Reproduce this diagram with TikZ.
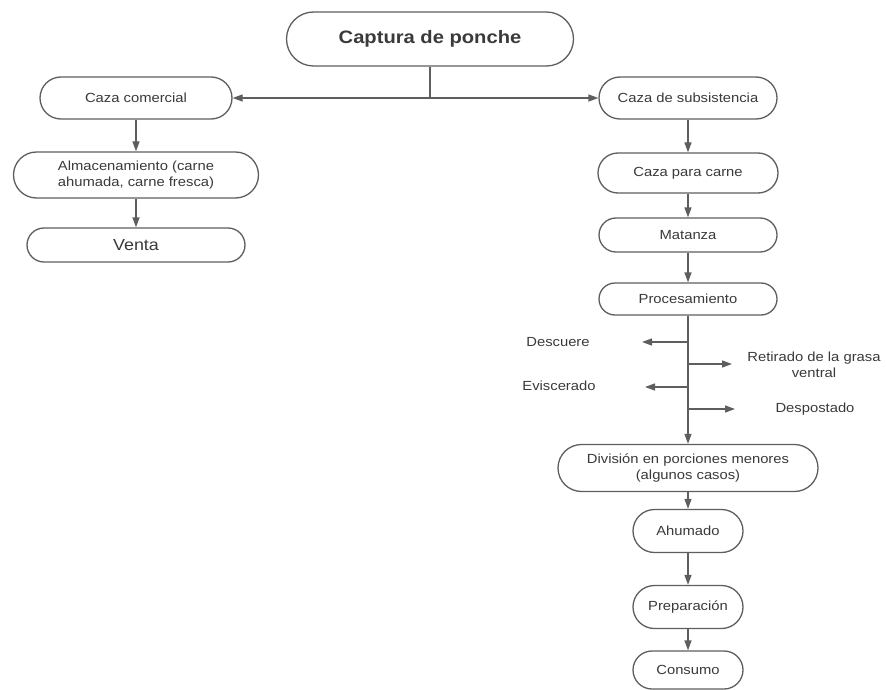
\documentclass[tikz,border=0pt]{standalone}
\usepackage{fontspec}
\setmainfont{Liberation Sans}[FakeStretch=1.12]
\usetikzlibrary{arrows.meta}
\definecolor{linec}{HTML}{5E5E5E}
\definecolor{txtc}{HTML}{3A3A3A}
\begin{document}
\begin{tikzpicture}[x=1pt,y=-1pt,
 pill/.style={draw=linec,line width=1.3pt,fill=white,text=txtc,inner sep=0pt,align=center,font=\fontsize{13.2}{16}\selectfont},
 conn/.style={draw=linec,line width=1.3pt},
 arr/.style={conn,-{Triangle[length=10pt,width=7pt]}},
 lbl/.style={text=txtc,align=center,font=\fontsize{13.2}{16}\selectfont}]
\useasboundingbox (0,0) rectangle (886,690);
% nodes
\node[pill,minimum width=287pt,minimum height=54pt,rounded corners=27pt,font=\bfseries\fontsize{18}{21}\selectfont] (cap) at (430,39) {Captura de ponche};
\node[pill,minimum width=192pt,minimum height=42pt,rounded corners=21pt] (cc) at (136,98) {Caza comercial};
\node[pill,minimum width=245pt,minimum height=46pt,rounded corners=23pt] (alm) at (136,175) {Almacenamiento (carne\\ahumada, carne fresca)};
\node[pill,minimum width=218pt,minimum height=34pt,rounded corners=17pt,font=\fontsize{16}{19}\selectfont] (ven) at (136,245) {Venta};
\node[pill,minimum width=178pt,minimum height=42pt,rounded corners=21pt] (cs) at (688,98) {Caza de subsistencia};
\node[pill,minimum width=180pt,minimum height=40pt,rounded corners=20pt] (cpc) at (688,173) {Caza para carne};
\node[pill,minimum width=178pt,minimum height=34pt,rounded corners=17pt] (mat) at (688,235) {Matanza};
\node[pill,minimum width=178pt,minimum height=32pt,rounded corners=16pt] (proc) at (688,299) {Procesamiento};
\node[pill,minimum width=260pt,minimum height=47pt,rounded corners=23.5pt] (div) at (688,468) {División en porciones menores\\(algunos casos)};
\node[pill,minimum width=110pt,minimum height=43pt,rounded corners=21.5pt] (ahu) at (688,531) {Ahumado};
\node[pill,minimum width=110pt,minimum height=43pt,rounded corners=21.5pt] (pre) at (688,607) {Preparación};
\node[pill,minimum width=110pt,minimum height=38pt,rounded corners=19pt] (con) at (688,670) {Consumo};
% labels
\node[lbl] (desc) at (558,342) {Descuere};
\node[lbl] (evis) at (559,386) {Eviscerado};
\node[lbl] (reti) at (814,365) {Retirado de la grasa\\ventral};
\node[lbl] (desp) at (815,409) {Despostado};
% connectors
\coordinate (j) at (430,98);
\draw[conn] (cap.south) -- (j);
\draw[arr] (j) -- (cc.east);
\draw[arr] (j) -- (cs.west);
\draw[arr] (cc) -- (alm);
\draw[arr] (alm) -- (ven);
\draw[arr] (cs) -- (cpc);
\draw[arr] (cpc) -- (mat);
\draw[arr] (mat) -- (proc);
\draw[arr] (proc) -- (div);
\draw[arr] (div) -- (ahu);
\draw[arr] (ahu) -- (pre);
\draw[arr] (pre) -- (con);
% branches
\coordinate (b1) at (688,342); \coordinate (e1) at (642,342);
\coordinate (b2) at (688,364); \coordinate (e2) at (732,364);
\coordinate (b3) at (688,387); \coordinate (e3) at (645,387);
\coordinate (b4) at (688,409); \coordinate (e4) at (735,409);
\draw[arr] (b1) -- (e1);
\draw[arr] (b2) -- (e2);
\draw[arr] (b3) -- (e3);
\draw[arr] (b4) -- (e4);
\end{tikzpicture}
\end{document}
